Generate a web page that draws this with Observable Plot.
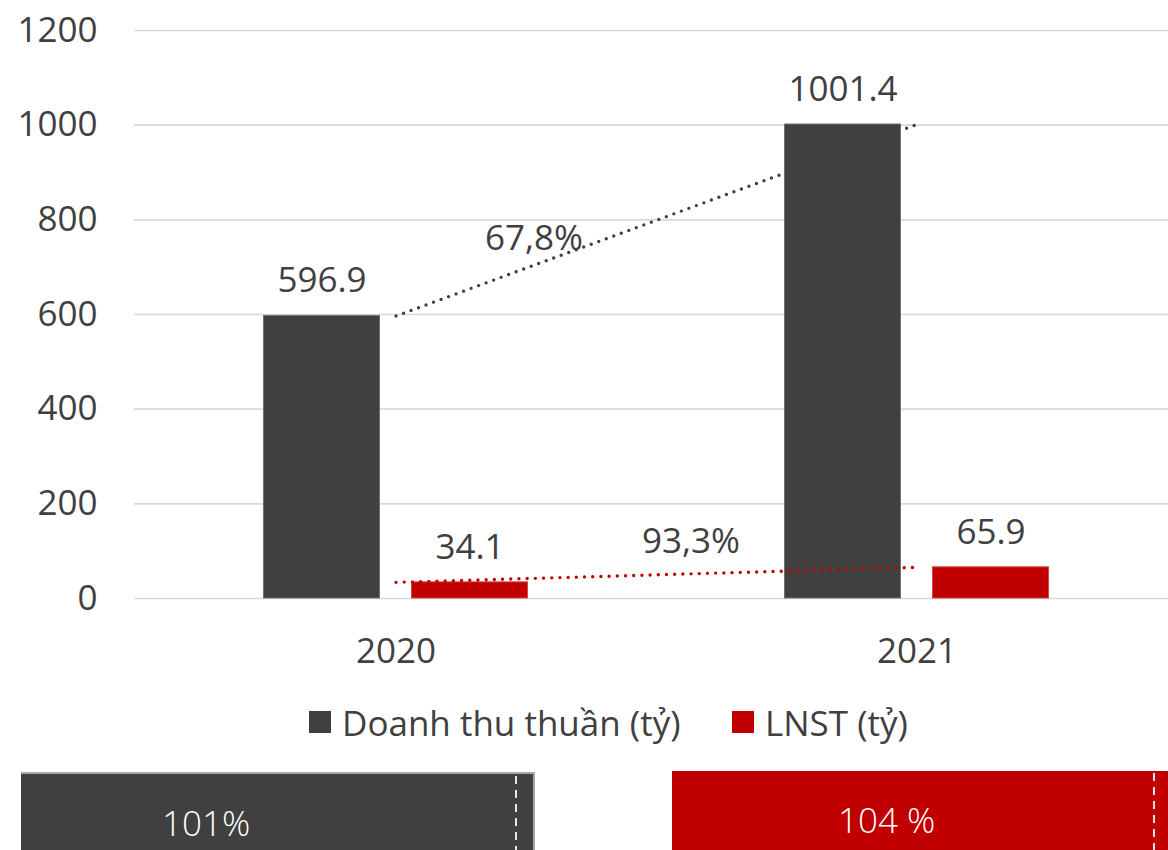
<!DOCTYPE html>
<html>
<head>
<meta charset="utf-8">
<script src="https://cdn.jsdelivr.net/npm/d3@7"></script>
<script src="https://cdn.jsdelivr.net/npm/@observablehq/plot@0.6"></script>
<style>
  html, body { margin: 0; padding: 0; background: #fff; }
  #wrap { position: relative; width: 1168px; height: 850px; overflow: hidden; font-family: "Open Sans", sans-serif; color: #404040; }
  #chart { position: absolute; left: 0; top: 0; }
  .legend-item { position: absolute; top: 696px; height: 52px; display: flex; align-items: center; font-size: 35px; white-space: nowrap; color: #404040; }
  .swatch { width: 22px; height: 22px; margin-right: 11px; flex: none; }
  .box { position: absolute; box-sizing: border-box; }
  .box .lbl { position: absolute; color: #fff; font-family: "Liberation Sans Narrow", "Open Sans", sans-serif; font-weight: 300; font-size: 35px; line-height: 1; white-space: nowrap; }
  .box .dash { position: absolute; top: 2px; bottom: 0; width: 1.6px; background: repeating-linear-gradient(to bottom, #e6e6e6 0 8px, transparent 8px 14px); }
</style>
</head>
<body>
<div id="wrap">
  <div id="chart"></div>
</div>
<script>
// ---- data ----
const years = ["2020", "2021"];
const revenue = [596.9, 1001.4];      // Doanh thu thuần (tỷ)
const profit = [34.1, 65.9];          // LNST (tỷ)
const revenueGrowth = "67,8%";
const profitGrowth = "93,3%";
const yTicks = [0, 200, 400, 600, 800, 1000, 1200];
const seriesNames = ["Doanh thu thuần (tỷ)", "LNST (tỷ)"];
const seriesColors = ["#404040", "#c00000"];
const planLabels = ["101%", "104 %"];

const revRows = years.map((y, i) => ({year: y, value: revenue[i]}));
const proRows = years.map((y, i) => ({year: y, value: profit[i]}));
const revGrowthRow = [{year: years[0], value: (revenue[0] + revenue[1]) / 2, label: revenueGrowth}];
const proGrowthRow = [{year: years[0], value: (profit[0] + profit[1]) / 2, label: profitGrowth}];

const plot = Plot.plot({
  width: 1168,
  height: 690,
  marginLeft: 134,
  marginRight: 0,
  marginTop: 30,
  marginBottom: 92,
  style: {fontFamily: "'Open Sans', sans-serif", color: "#404040", background: "transparent"},
  x: {type: "band", domain: years, range: [134.5, 1176.5], padding: 0, label: null},
  y: {domain: [0, 1200], label: null},
  marks: [
    Plot.gridY(yTicks, {stroke: "#d9d9d9", strokeOpacity: 1, strokeWidth: 1.6}),
    Plot.axisY(yTicks, {tickSize: 0, tickPadding: 37, fontSize: 35, label: null, tickFormat: d => String(d)}),
    Plot.axisX({tickSize: 0, tickPadding: 40, fontSize: 35, label: null}),
    Plot.line(revRows, {x: "year", y: "value", stroke: seriesColors[0], strokeWidth: 3.4, strokeDasharray: "0,8", strokeLinecap: "round"}),
    Plot.barY(revRows, {x: "year", y: "value", fill: seriesColors[0], stroke: "#707070", strokeWidth: 1, insetLeft: 128.5, insetRight: 276.5}),
    Plot.barY(proRows, {x: "year", y: "value", fill: seriesColors[1], stroke: "#d04848", strokeWidth: 1, insetLeft: 276.5, insetRight: 128.5}),
    Plot.line(proRows, {x: "year", y: "value", stroke: seriesColors[1], strokeWidth: 3.4, strokeDasharray: "0,8.2", strokeLinecap: "round"}),
    Plot.text(revRows, {x: "year", y: "value", text: d => d.value.toFixed(1), dx: -74, dy: -35, fontSize: 35, fill: "#404040", lineAnchor: "middle"}),
    Plot.text(proRows, {x: "year", y: "value", text: d => d.value.toFixed(1), dx: 74, dy: -35, fontSize: 35, fill: "#404040", lineAnchor: "middle"}),
    Plot.text(revGrowthRow, {x: "year", y: "value", text: "label", dx: 138, dy: 19, fontSize: 35, fill: "#404040", lineAnchor: "middle"}),
    Plot.text(proGrowthRow, {x: "year", y: "value", text: "label", dx: 295, dy: -33, fontSize: 35, fill: "#404040", lineAnchor: "middle"})
  ]
});
document.getElementById("chart").appendChild(plot);

// ---- legend ----
const wrap = document.getElementById("wrap");
const legendLefts = [309, 732];
seriesNames.forEach((name, i) => {
  const item = document.createElement("div");
  item.className = "legend-item";
  item.style.left = legendLefts[i] + "px";
  const sw = document.createElement("span");
  sw.className = "swatch";
  sw.style.background = seriesColors[i];
  const t = document.createElement("span");
  t.textContent = name;
  item.appendChild(sw);
  item.appendChild(t);
  wrap.appendChild(item);
});

// ---- plan completion boxes ----
const boxes = [
  {left: 21, top: 772, width: 514, color: seriesColors[0], border: true, textLeft: 141, dash: 494},
  {left: 672, top: 771, width: 496, color: seriesColors[1], border: false, textLeft: 166, dash: 481}
];
boxes.forEach((b, i) => {
  const el = document.createElement("div");
  el.className = "box";
  el.style.left = b.left + "px";
  el.style.top = b.top + "px";
  el.style.width = b.width + "px";
  el.style.height = (850 - b.top + 10) + "px";
  el.style.background = b.color;
  if (b.border) {
    el.style.borderTop = "2px solid #a6a6a6";
    el.style.borderRight = "2px solid #a6a6a6";
  }
  const lbl = document.createElement("div");
  lbl.className = "lbl";
  lbl.textContent = planLabels[i];
  lbl.style.left = b.textLeft + "px";
  lbl.style.top = "31px";
  el.appendChild(lbl);
  const dash = document.createElement("div");
  dash.className = "dash";
  dash.style.left = b.dash + "px";
  el.appendChild(dash);
  wrap.appendChild(el);
});
</script>
</body>
</html>
